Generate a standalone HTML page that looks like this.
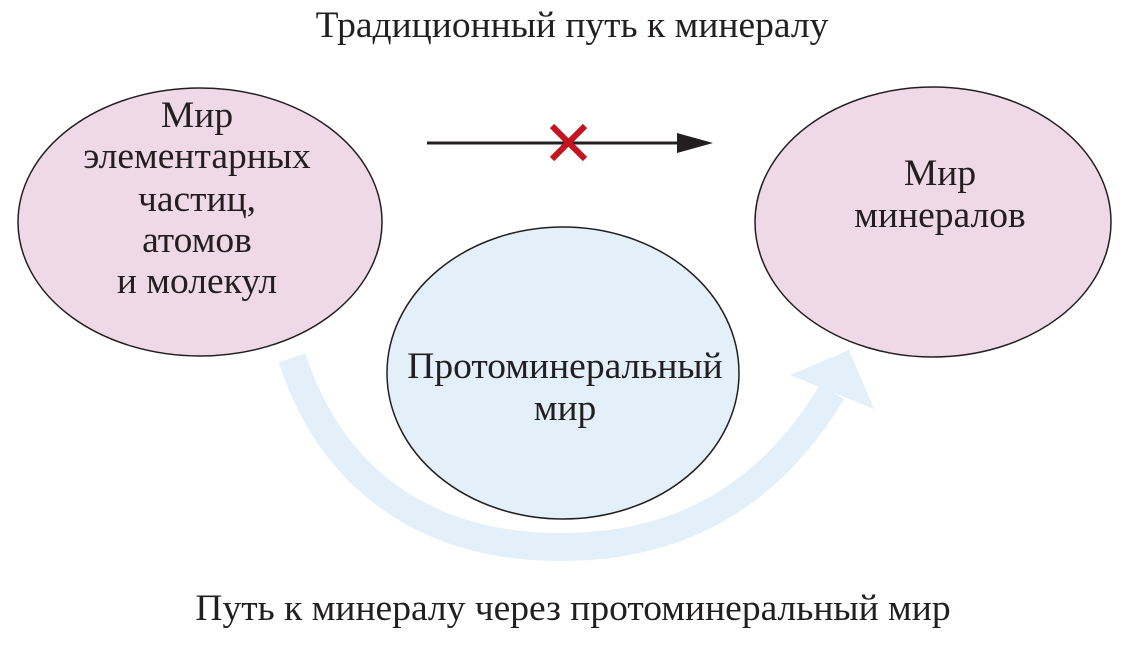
<!DOCTYPE html>
<html><head><meta charset="utf-8"><style>
html,body{margin:0;padding:0;background:#fff}
svg{display:block}
text{font-family:"Liberation Serif",serif;fill:#231f20;font-size:37.5px;text-anchor:middle}
</style></head><body>
<svg width="1135" height="651" viewBox="0 0 1135 651" xmlns="http://www.w3.org/2000/svg">
<text x="572" y="37">Традиционный путь к минералу</text>
<path d="M292,358 C330,475 420,545 555,547 C680,549 770,495 832,392" fill="none" stroke="#e3eff9" stroke-width="28"/>
<polygon points="849,350 790,375 822,388 874,409" fill="#e3eff9"/>
<ellipse cx="200" cy="222" rx="182" ry="134" fill="#efd9e6" stroke="#231f20" stroke-width="1.5"/>
<ellipse cx="933" cy="222" rx="178" ry="135" fill="#efd9e6" stroke="#231f20" stroke-width="1.5"/>
<ellipse cx="563" cy="373" rx="176" ry="146" fill="#e3eff9" stroke="#231f20" stroke-width="1.5"/>
<text x="197" y="127">Мир</text>
<text x="197" y="168">элементарных</text>
<text x="197" y="211">частиц,</text>
<text x="197" y="252">атомов</text>
<text x="197" y="293">и молекул</text>
<text x="940" y="185">Мир</text>
<text x="940" y="227">минералов</text>
<text x="565" y="378">Протоминеральный</text>
<text x="565" y="420">мир</text>
<line x1="427" y1="143" x2="685" y2="143" stroke="#231f20" stroke-width="3"/>
<polygon points="713,143 677,133 677,153" fill="#231f20"/>
<g stroke="#c4121f" stroke-width="6">
<line x1="552" y1="126" x2="585" y2="159"/><line x1="585" y1="126" x2="552" y2="159"/>
</g>
<text x="573" y="620">Путь к минералу через протоминеральный мир</text>
</svg>
</body></html>
